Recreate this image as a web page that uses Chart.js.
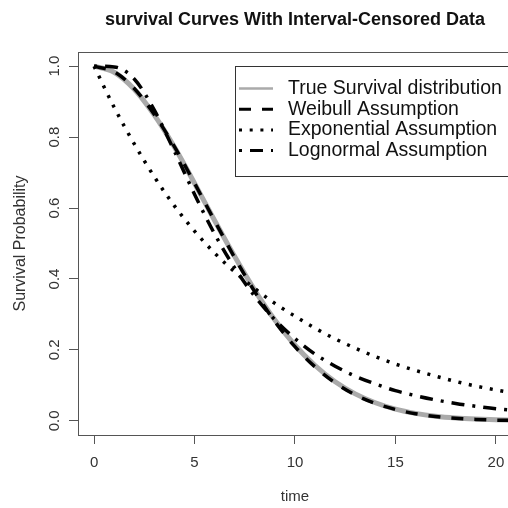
<!DOCTYPE html>
<html>
<head>
<meta charset="utf-8">
<script src="https://cdn.jsdelivr.net/npm/chart.js@4.4.1/dist/chart.umd.min.js"></script>
<style>
  html, body { margin: 0; padding: 0; background: #fff; overflow: hidden; }
  #wrap { width: 514px; height: 508px; }
</style>
</head>
<body>
<div id="wrap"><canvas id="survChart" width="514" height="508"></canvas></div>
<script>
// time grid and survival values
const timePoints = [0, 1, 2, 3, 4, 5, 6, 7, 8, 9, 10, 11, 12, 13, 14, 15, 16, 17, 18, 19, 20, 21];
const trueSurv = [1, 0.983, 0.935, 0.862, 0.772, 0.670, 0.565, 0.463, 0.368, 0.284, 0.213, 0.156, 0.110, 0.076, 0.051, 0.033, 0.021, 0.013, 0.008, 0.005, 0.003, 0.001];
const weibullSurv = [1, 0.984, 0.937, 0.864, 0.773, 0.670, 0.564, 0.460, 0.364, 0.280, 0.209, 0.152, 0.107, 0.073, 0.049, 0.032, 0.020, 0.012, 0.007, 0.004, 0.002, 0.001];
const expSurv = [1, 0.884, 0.781, 0.688, 0.606, 0.535, 0.473, 0.420, 0.373, 0.331, 0.295, 0.261, 0.231, 0.205, 0.181, 0.160, 0.142, 0.126, 0.111, 0.098, 0.087, 0.077];
const lognormSurv = [1, 0.998, 0.964, 0.876, 0.760, 0.639, 0.527, 0.431, 0.351, 0.285, 0.232, 0.188, 0.154, 0.126, 0.104, 0.085, 0.071, 0.059, 0.049, 0.041, 0.034, 0.029];

const seriesNames = ["True Survival distribution", "Weibull Assumption", "Exponential Assumption", "Lognormal Assumption"];
const xTicks = [0, 5, 10, 15, 20];
const yTicks = [0, 0.2, 0.4, 0.6, 0.8, 1.0];

// line looks (plot / legend sample)
const lineStyles = [
  { color: "#aaaaaa", width: 5, legendWidth: 2.5, dash: [] },
  { color: "#000000", width: 3.5, legendWidth: 3, dash: [12, 11] },
  { color: "#000000", width: 3.5, legendWidth: 3, dash: [3, 7.7] },
  { color: "#000000", width: 3.5, legendWidth: 3, dash: [3, 8, 13, 8] }
];

Chart.defaults.font.family = "'Liberation Sans', Arial, sans-serif";

const toPoints = vals => timePoints.map((t, i) => ({ x: t, y: vals[i] }));
const allSeries = [trueSurv, weibullSurv, expSurv, lognormSurv];

// box round the plot region, like R's box()
const plotBox = {
  id: "plotBox",
  afterDatasetsDraw(chart) {
    const { ctx, chartArea: a } = chart;
    ctx.save();
    ctx.strokeStyle = "#555";
    ctx.lineWidth = 1;
    ctx.strokeRect(Math.round(a.left) + 0.5, Math.round(a.top) + 0.5, a.right - a.left, Math.round(a.bottom - a.top));
    ctx.restore();
  }
};

// legend box placed at (7, 1.0) in data units
const boxLegend = {
  id: "boxLegend",
  afterDraw(chart) {
    const { ctx, scales: { x, y } } = chart;
    const left = Math.round(x.getPixelForValue(7));
    const top = Math.round(y.getPixelForValue(1));
    ctx.save();
    ctx.font = "19.5px 'Liberation Sans', Arial, sans-serif";
    const textW = Math.max(...seriesNames.map(s => ctx.measureText(s).width));
    const w = 53 + textW + 10, h = 110;
    ctx.fillStyle = "#fff";
    ctx.fillRect(left, top, w, h);
    ctx.strokeStyle = "#333";
    ctx.lineWidth = 1;
    ctx.strokeRect(left + 0.5, top + 0.5, w, h);
    seriesNames.forEach((name, i) => {
      const yy = top + 22.5 + i * 20.7;
      const st = lineStyles[i];
      ctx.beginPath();
      ctx.setLineDash(st.dash);
      ctx.strokeStyle = st.color;
      ctx.lineWidth = st.legendWidth;
      ctx.moveTo(left + 4, yy);
      ctx.lineTo(left + 38, yy);
      ctx.stroke();
      ctx.setLineDash([]);
      ctx.fillStyle = "#111";
      ctx.textBaseline = "middle";
      ctx.textAlign = "left";
      ctx.fillText(name, left + 53, yy);
    });
    ctx.restore();
  }
};

const chart = new Chart(document.getElementById("survChart"), {
  type: "line",
  data: {
    datasets: allSeries.map((vals, i) => ({
      label: seriesNames[i],
      data: toPoints(vals),
      borderColor: lineStyles[i].color,
      borderWidth: lineStyles[i].width,
      borderDash: lineStyles[i].dash,
      pointRadius: 0,
      fill: false,
      cubicInterpolationMode: "monotone",
      order: 4 - i // grey curve drawn first, black ones over it
    }))
  },
  options: {
    responsive: false,
    animation: false,
    layout: { padding: { left: 0, right: 2, top: 0, bottom: 0 } },
    plugins: {
      legend: { display: false },
      tooltip: { enabled: false },
      title: {
        display: true,
        text: "survival Curves With Interval-Censored Data",
        fullSize: false,
        color: "#111",
        font: { size: 18, weight: "bold" },
        padding: { top: 9, bottom: 21.4 }
      }
    },
    scales: {
      x: {
        type: "linear",
        min: -0.8,
        max: 20.8,
        border: { display: false },
        grid: { drawOnChartArea: false, drawTicks: true, tickLength: 9, color: "#555" },
        ticks: { padding: 9.7, color: "#333", font: { size: 15 }, maxRotation: 0, callback: v => String(v) },
        afterBuildTicks: s => { s.ticks = xTicks.map(v => ({ value: v })); },
        afterFit: s => { s.height = 73; },
        title: { display: true, text: "time", color: "#333", font: { size: 15 }, padding: { top: 0, bottom: 2 } }
      },
      y: {
        min: -0.04,
        max: 1.04,
        border: { display: false },
        grid: { drawOnChartArea: false, drawTicks: true, tickLength: 9, color: "#555" },
        ticks: { padding: 3.6, color: "#333", font: { size: 15 }, minRotation: 90, maxRotation: 90, crossAlign: "center", callback: v => v.toFixed(1) },
        afterBuildTicks: s => { s.ticks = yTicks.map(v => ({ value: v })); },
        afterFit: s => { s.width = 78; },
        title: { display: true, text: "Survival Probability", color: "#333", font: { size: 16 }, padding: { top: 10.5, bottom: 0 } }
      }
    }
  },
  plugins: [plotBox, boxLegend]
});
</script>
</body>
</html>
